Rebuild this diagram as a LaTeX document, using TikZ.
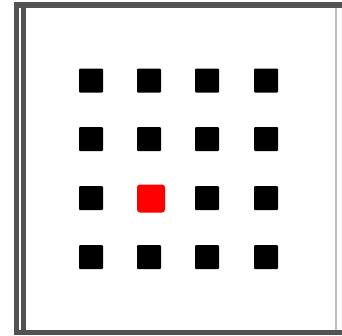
\documentclass[tikz,border=0pt]{standalone}
\begin{document}
\begin{tikzpicture}[x=1pt,y=-1pt,
  cell/.style={rectangle,fill=black,minimum size=24pt,inner sep=0pt,rounded corners=1pt},
  hot/.style={rectangle,fill=red,minimum size=28pt,inner sep=0pt,rounded corners=3pt},
  framebar/.style={fill=black!68}]
\useasboundingbox (0,0) rectangle (342,335);
\fill[white] (0,0) rectangle (342,335);
% frame
\fill[framebar] (14,2) rectangle (342,8);
\fill[framebar] (14,2) rectangle (19,335);
\fill[framebar] (21,8) rectangle (26,330);
\fill[framebar] (14,330) rectangle (342,335);
\fill[black!25] (335,8) rectangle (337,330);
% grid
\foreach \c/\x in {1/91,2/149,3/207,4/266}{
  \foreach \r/\y in {1/80.5,2/139,3/198,4/257}{
    \ifnum\c=2 \ifnum\r=3 \else
      \node[cell] (s-\r-\c) at (\x,\y) {};
    \fi\else
      \node[cell] (s-\r-\c) at (\x,\y) {};
    \fi
  }
}
\node[hot] (s-3-2) at (151,198.5) {};
\end{tikzpicture}
\end{document}
